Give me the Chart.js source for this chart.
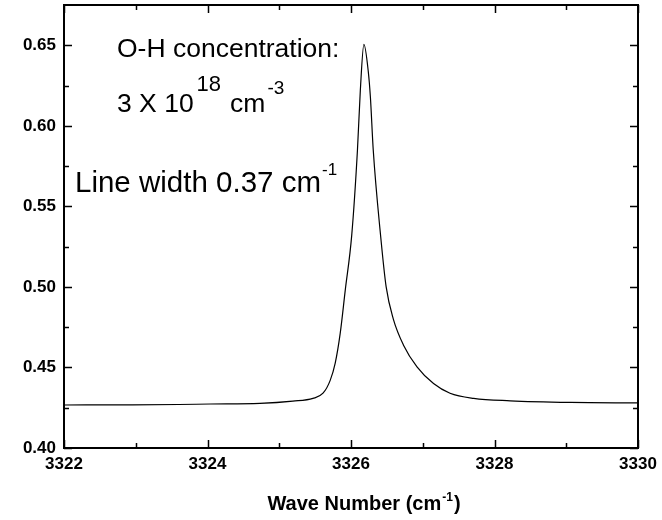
<!DOCTYPE html>
<html>
<head>
<meta charset="utf-8">
<script src="https://cdn.jsdelivr.net/npm/chart.js@4/dist/chart.umd.min.js"></script>
<style>
  html, body { margin: 0; padding: 0; background: #fff; }
  #wrap { width: 662px; height: 520px; }
</style>
</head>
<body>
<div id="wrap"><canvas id="chart"></canvas></div>
<script>
// spectrum
const waveNumber = [
  3322.00, 3322.90, 3323.60, 3324.04, 3324.73, 3325.19, 3325.47, 3325.61,
  3325.71, 3325.78, 3325.85, 3325.92, 3326.01, 3326.09, 3326.13, 3326.18,
  3326.24, 3326.27, 3326.31, 3326.41, 3326.49, 3326.59, 3326.73, 3326.92,
  3327.15, 3327.38, 3327.71, 3328.22, 3329.06, 3330.00
];
const absorbance = [
  0.4267, 0.4268, 0.4270, 0.4273, 0.4277, 0.4291, 0.4308, 0.4340,
  0.4420, 0.4527, 0.4713, 0.4980, 0.5320, 0.5850, 0.6220, 0.6505,
  0.6340, 0.6180, 0.5850, 0.5330, 0.5000, 0.4800, 0.4640, 0.4504,
  0.4400, 0.4340, 0.4308, 0.4293, 0.4283, 0.4280
];

const xTicks = [3322, 3324, 3326, 3328, 3330];
const xMinor = [3323, 3325, 3327, 3329];
const yTicks = [0.40, 0.45, 0.50, 0.55, 0.60, 0.65];
const yMinor = [0.425, 0.475, 0.525, 0.575, 0.625];

const FONT = '"Liberation Sans", Arial, sans-serif';

// frame with inward ticks on all four sides
const framePlugin = {
  id: 'frame',
  afterDraw(chart) {
    const ctx = chart.ctx;
    const a = chart.chartArea;
    const xs = chart.scales.x, ys = chart.scales.y;
    ctx.save();
    ctx.strokeStyle = '#000';
    ctx.lineWidth = 2;
    ctx.strokeRect(a.left, a.top, a.right - a.left, a.bottom - a.top);
    ctx.lineWidth = 1.5;
    ctx.beginPath();
    const tx = (v, len) => {
      const p = Math.round(xs.getPixelForValue(v)) + 0.5;
      ctx.moveTo(p, a.bottom); ctx.lineTo(p, a.bottom - len);
      ctx.moveTo(p, a.top); ctx.lineTo(p, a.top + len);
    };
    const ty = (v, len) => {
      const p = Math.round(ys.getPixelForValue(v)) + 0.5;
      ctx.moveTo(a.left, p); ctx.lineTo(a.left + len, p);
      ctx.moveTo(a.right, p); ctx.lineTo(a.right - len, p);
    };
    xTicks.forEach(v => tx(v, 8));
    xMinor.forEach(v => tx(v, 5));
    yTicks.forEach(v => ty(v, 8));
    yMinor.forEach(v => ty(v, 5));
    ctx.stroke();
    ctx.restore();
  }
};

// text with superscripts
const textPlugin = {
  id: 'notes',
  afterDraw(chart) {
    const ctx = chart.ctx;
    ctx.save();
    ctx.fillStyle = '#000';
    ctx.textBaseline = 'alphabetic';
    ctx.textAlign = 'left';

    ctx.font = '26.5px ' + FONT;
    ctx.fillText('O-H concentration:', 117, 57);

    let x = 117;
    ctx.fillText('3 X 10', x, 112);
    x += ctx.measureText('3 X 10').width + 3;
    ctx.font = '22px ' + FONT;
    ctx.fillText('18', x, 91);
    x += ctx.measureText('18').width + 9;
    ctx.font = '26.5px ' + FONT;
    ctx.fillText('cm', x, 112);
    x += ctx.measureText('cm').width + 2;
    ctx.font = '19px ' + FONT;
    ctx.fillText('-3', x, 94);

    x = 75;
    ctx.font = '29.5px ' + FONT;
    ctx.fillText('Line width 0.37 cm', x, 192);
    x += ctx.measureText('Line width 0.37 cm').width + 1;
    ctx.font = '17px ' + FONT;
    ctx.fillText('-1', x, 175);

    // x axis title
    ctx.font = 'bold 20px ' + FONT;
    const t1 = 'Wave Number (cm', t3 = ')';
    const w1 = ctx.measureText(t1).width, w3 = ctx.measureText(t3).width;
    ctx.font = 'bold 12px ' + FONT;
    const w2 = ctx.measureText('-1').width;
    let tx = 364 - (w1 + w2 + w3 + 2) / 2;
    const base = 510;
    ctx.font = 'bold 20px ' + FONT;
    ctx.fillText(t1, tx, base);
    tx += w1 + 1;
    ctx.font = 'bold 12px ' + FONT;
    ctx.fillText('-1', tx, base - 9);
    tx += w2 + 1;
    ctx.font = 'bold 20px ' + FONT;
    ctx.fillText(t3, tx, base);
    ctx.restore();
  }
};

new Chart(document.getElementById('chart'), {
  type: 'line',
  data: {
    datasets: [{
      data: waveNumber.map((w, i) => ({ x: w, y: absorbance[i] })),
      borderColor: '#000',
      borderWidth: 1.2,
      pointRadius: 0,
      cubicInterpolationMode: 'monotone',
      fill: false
    }]
  },
  options: {
    responsive: true,
    maintainAspectRatio: false,
    animation: false,
    events: [],
    layout: { padding: { top: 5, right: 24, left: 0, bottom: 0 } },
    plugins: { legend: { display: false }, tooltip: { enabled: false } },
    scales: {
      x: {
        type: 'linear',
        min: 3322,
        max: 3330,
        afterBuildTicks: s => { s.ticks = xTicks.map(v => ({ value: v })); },
        afterFit: s => { s.height = 72; s.paddingLeft = 0; s.paddingRight = 0; },
        grid: { display: false, drawTicks: false },
        border: { display: false },
        ticks: {
          color: '#000',
          padding: 6,
          maxRotation: 0,
          font: { family: FONT, size: 17, weight: 'bold' },
          callback: v => String(v)
        }
      },
      y: {
        min: 0.40,
        max: 0.675,
        afterBuildTicks: s => { s.ticks = yTicks.map(v => ({ value: v })); },
        afterFit: s => { s.width = 64; s.paddingTop = 0; s.paddingBottom = 0; },
        grid: { display: false, drawTicks: false },
        border: { display: false },
        ticks: {
          color: '#000',
          padding: 8,
          font: { family: FONT, size: 17, weight: 'bold' },
          callback: v => v.toFixed(2)
        }
      }
    }
  },
  plugins: [framePlugin, textPlugin]
});
</script>
</body>
</html>
